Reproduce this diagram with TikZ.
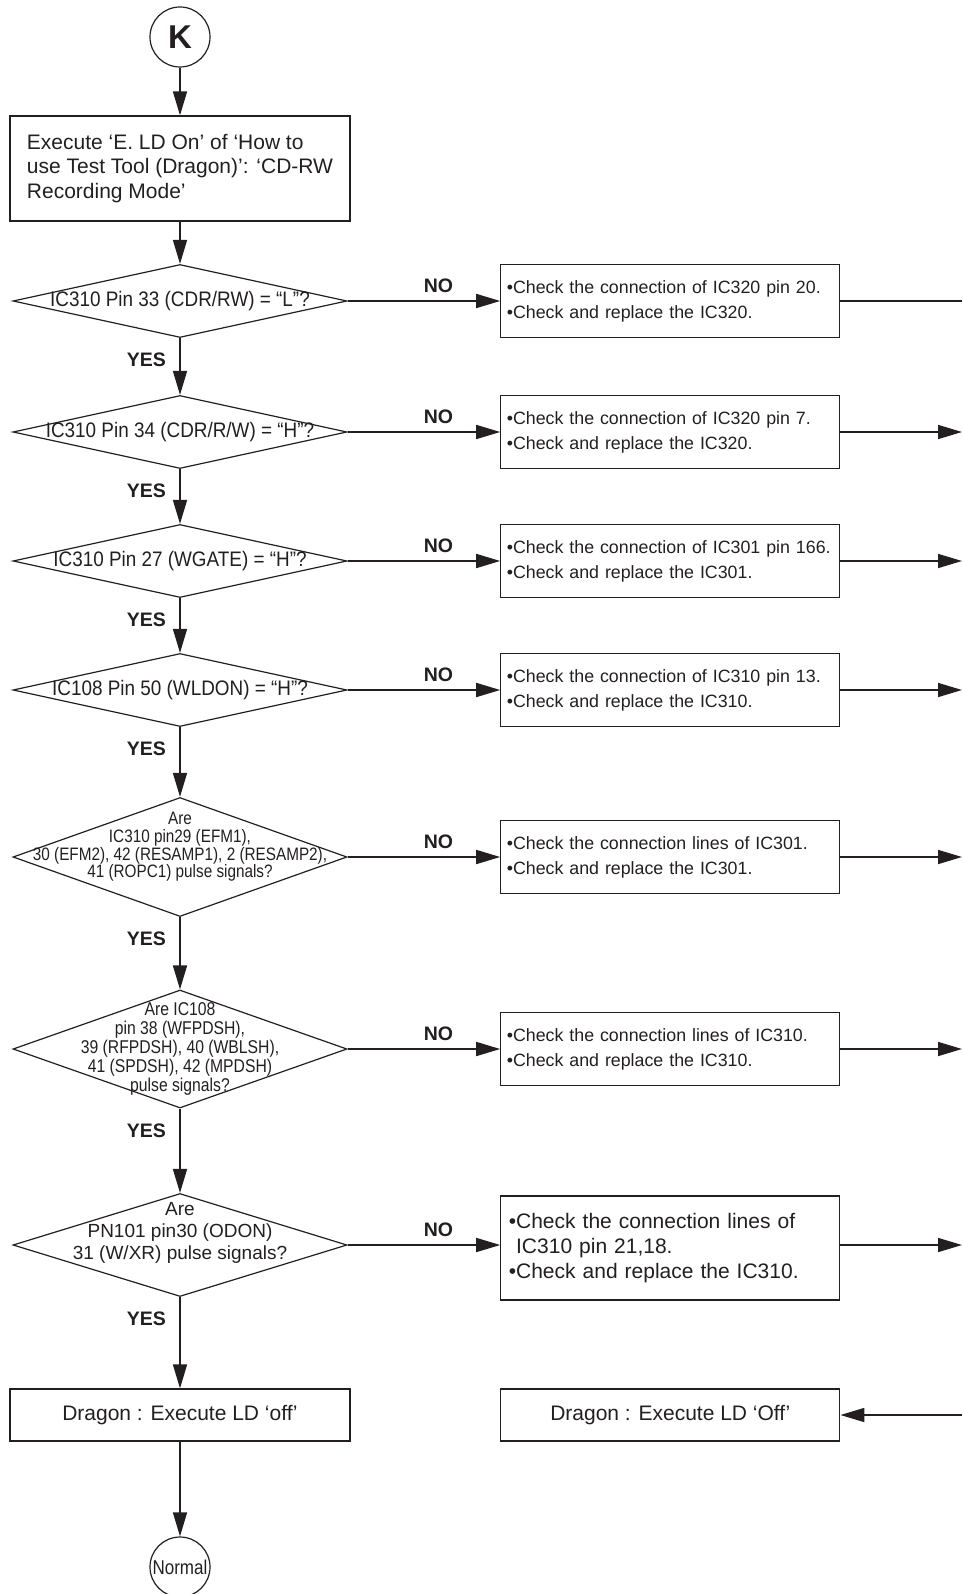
\documentclass[tikz,border=0pt]{standalone}
\usepackage{fontspec}
\setmainfont{Liberation Sans}
\newfontfamily\qfont[FakeStretch=0.9]{Liberation Sans}
\newfontfamily\qnarrow[FakeStretch=0.85]{Liberation Sans}
\usetikzlibrary{positioning,shapes.geometric,arrows.meta}
\definecolor{ink}{HTML}{231F20}

\begin{document}
\begin{tikzpicture}[x=1pt,y=-1pt,
    mainbox/.style={draw=ink,text=ink,line width=1.2pt,minimum width=340pt,inner sep=0pt,font=\fontsize{21}{24.7}\selectfont},
    checkbox/.style={draw=ink,text=ink,line width=1.2pt,minimum width=339pt,minimum height=73pt,text width=327pt,inner xsep=6pt,inner ysep=0pt,align=left,font=\fontsize{17.8}{25}\selectfont},
    decision/.style={diamond,draw=ink,line width=1.2pt,minimum width=334pt,minimum height=73pt,inner sep=0pt},
    qtxt/.style={text=ink,inner sep=0pt,align=center,font=\qfont\fontsize{21}{24}\selectfont},
    qsmall/.style={text=ink,inner sep=0pt,align=center,font=\qnarrow\fontsize{18}{17.7}\selectfont},
    term/.style={circle,draw=ink,text=ink,line width=1.2pt,minimum size=60pt,inner sep=0pt},
    yesno/.style={text=ink,inner sep=0pt,font=\bfseries\fontsize{19.5}{20}\selectfont},
    line/.style={draw=ink,line width=1.6pt},
    arr/.style={line,-{Triangle[length=24pt,width=14pt]}}]

    \useasboundingbox (0,0) rectangle (962,1594);

    \node[term,font=\bfseries\fontsize{33}{33}\selectfont] (K) at (180,37) {K};
    \node[mainbox,minimum height=105pt,align=left] (exec) at (180,168.5) {Execute ‘E. LD On’ of ‘How to\\use Test Tool (Dragon)’: ‘CD-RW\\Recording Mode’};

    % checks down the left column
    \node[decision,label={[qtxt]center:{IC310 Pin 33 (CDR/RW) = “L”?}}] (q1) at (180,301) {};
    \node[decision,label={[qtxt]center:{IC310 Pin 34 (CDR/R/W) = “H”?}}] (q2) at (180,432) {};
    \node[decision,label={[qtxt]center:{IC310 Pin 27 (WGATE) = “H”?}}] (q3) at (180,561) {};
    \node[decision,label={[qtxt]center:{IC108 Pin 50 (WLDON) = “H”?}}] (q4) at (180,690) {};
    \node[decision,minimum height=119pt,label={[qsmall,yshift=10pt]center:{Are\\IC310 pin29 (EFM1),\\30 (EFM2), 42 (RESAMP1), 2 (RESAMP2),\\41 (ROPC1) pulse signals?}}] (q5) at (180,857) {};
    \node[decision,minimum height=118pt,label={[qsmall,font=\qnarrow\fontsize{18.5}{19}\selectfont]center:{Are IC108\\pin 38 (WFPDSH),\\39 (RFPDSH), 40 (WBLSH),\\41 (SPDSH), 42 (MPDSH)\\pulse signals?}}] (q6) at (180,1049) {};
    \node[decision,minimum height=103pt,label={[qtxt,yshift=12pt,font=\fontsize{19}{21.7}\selectfont]center:{Are\\PN101 pin30 (ODON)\\31 (W/XR) pulse signals?}}] (q7) at (180,1245) {};

    \node[mainbox,minimum height=52pt] (off1) at (180,1415) {Dragon : Execute LD ‘off’};
    \node[term,font=\qnarrow\fontsize{20}{20}\selectfont] (normal) at (180,1567) {Normal};

    % repair boxes on the right
    \node[checkbox] (c1) at (670.3,301) {•Check the connection of IC320 pin 20.\\•Check and replace the IC320.};
    \node[checkbox] (c2) at (670.3,432) {•Check the connection of IC320 pin 7.\\•Check and replace the IC320.};
    \node[checkbox] (c3) at (670.3,561) {•Check the connection of IC301 pin 166.\\•Check and replace the IC301.};
    \node[checkbox] (c4) at (670.3,690) {•Check the connection of IC310 pin 13.\\•Check and replace the IC310.};
    \node[checkbox] (c5) at (670.3,857) {•Check the connection lines of IC301.\\•Check and replace the IC301.};
    \node[checkbox] (c6) at (670.3,1049) {•Check the connection lines of IC310.\\•Check and replace the IC310.};
    \node[checkbox,minimum height=104pt,inner xsep=8pt,text width=323pt,font=\fontsize{21}{25.3}\selectfont] (c7) at (670.3,1248) {•Check the connection lines of\\\phantom{•}IC310 pin 21,18.\\•Check and replace the IC310.};
    \node[mainbox,minimum width=339pt,minimum height=52pt] (off2) at (670.3,1415) {Dragon : Execute LD ‘Off’};

    \coordinate (edge) at (962,0);

    % main flow
    \draw[arr] (K) -- (exec);
    \draw[arr] (exec) -- (q1);
    \draw[arr] (q1) -- (q2);
    \draw[arr] (q2) -- (q3);
    \draw[arr] (q3) -- (q4);
    \draw[arr] (q4) -- (q5);
    \draw[arr] (q5) -- (q6);
    \draw[arr] (q6) -- (q7);
    \draw[arr] (q7) -- (off1);
    \draw[arr] (off1) -- (normal);

    \node[yesno,below left=15pt and 14pt of q1.south] (yes1) {YES};
    \node[yesno,below left=15pt and 14pt of q2.south] (yes2) {YES};
    \node[yesno,below left=15pt and 14pt of q3.south] (yes3) {YES};
    \node[yesno,below left=15pt and 14pt of q4.south] (yes4) {YES};
    \node[yesno,below left=15pt and 14pt of q5.south] (yes5) {YES};
    \node[yesno,below left=15pt and 14pt of q6.south] (yes6) {YES};
    \node[yesno,below left=15pt and 14pt of q7.south] (yes7) {YES};

    % NO branches
    \draw[arr] (q1) -- (c1);
    \draw[arr] (q2) -- (c2);
    \draw[arr] (q3) -- (c3);
    \draw[arr] (q4) -- (c4);
    \draw[arr] (q5) -- (c5);
    \draw[arr] (q6) -- (c6);
    \draw[arr] (q7.east) -- (q7.east -| c7.west);

    \node[yesno,above left=8pt and 47pt of c1.west] (no1) {NO};
    \node[yesno,above left=8pt and 47pt of c2.west] (no2) {NO};
    \node[yesno,above left=8pt and 47pt of c3.west] (no3) {NO};
    \node[yesno,above left=8pt and 47pt of c4.west] (no4) {NO};
    \node[yesno,above left=8pt and 47pt of c5.west] (no5) {NO};
    \node[yesno,above left=8pt and 47pt of c6.west] (no6) {NO};
    \node[yesno,above left=8pt and 47pt of q7.east -| c7.west] (no7) {NO};

    % out to the right edge and back
    \draw[line] (c1.east) -- (c1.east -| edge);
    \draw[arr] (c2.east) -- (c2.east -| edge);
    \draw[arr] (c3.east) -- (c3.east -| edge);
    \draw[arr] (c4.east) -- (c4.east -| edge);
    \draw[arr] (c5.east) -- (c5.east -| edge);
    \draw[arr] (c6.east) -- (c6.east -| edge);
    \draw[arr] (c7.east |- q7.east) -- (q7.east -| edge);
    \draw[arr] (off2.east -| edge) -- (off2.east);

\end{tikzpicture}
\end{document}
